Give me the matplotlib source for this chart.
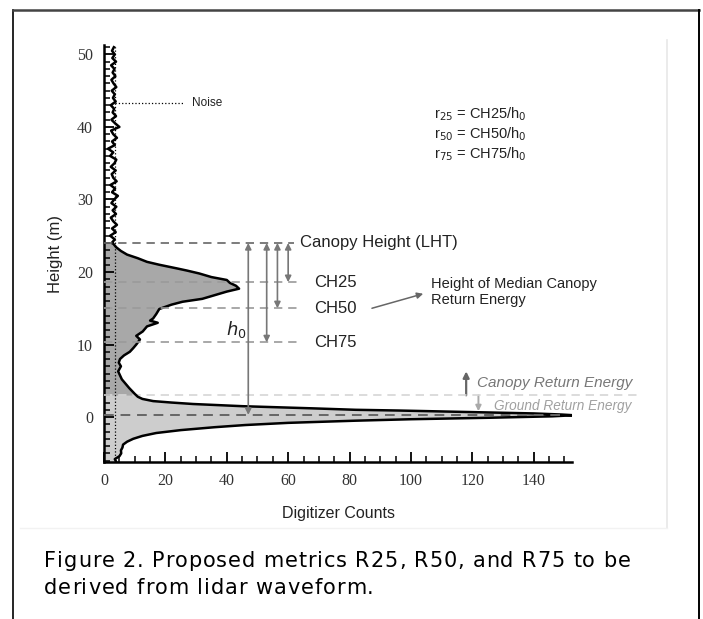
import matplotlib.pyplot as plt
from matplotlib.lines import Line2D
import numpy as np

# waveform: ground return (bottom up)
ground_h = [-6.2, -5.8, -5.4, -5.0, -4.6, -4.2, -3.8, -3.4, -3.0, -2.6, -2.2, -1.8, -1.4, -1.1,
            -0.8, -0.5, -0.3, -0.1, 0.1, 0.25, 0.35, 0.5, 0.7, 0.9, 1.0, 1.2, 1.5, 1.8, 2.0,
            2.2, 2.5, 2.8, 3.0]
ground_counts = [4, 3.5, 5, 5.6, 5.5, 6, 6.2, 7.5, 9.5, 12.5, 17, 25, 36, 46,
                 60, 82, 100, 125, 146, 153, 149, 140, 118, 96, 82, 68, 45, 29, 22,
                 16, 12.5, 11, 10.5]

# canopy return
canopy_h = [3.0, 3.2, 4.0, 5.2, 6.3, 7.0, 7.5, 8.0, 8.5, 9.0, 9.5, 10.0, 10.7, 11.2, 11.8,
            12.5, 13.0, 13.3, 13.6, 14.2, 14.9, 15.5, 15.9, 16.3, 16.8, 17.3, 17.7, 18.1,
            18.5, 18.9, 19.3, 19.8, 20.2, 20.5, 21.0, 21.4, 21.9, 22.4, 22.9, 23.4, 23.9, 24.0]
canopy_counts = [10.5, 10, 8.2, 5.8, 4.6, 5.5, 4.8, 5.2, 6.5, 8.4, 9.5, 10.5, 11.7, 10.5, 12.6,
                 14, 17.5, 15, 16, 17, 18, 22, 25.6, 32, 36, 40, 44, 43,
                 41, 40, 35, 31, 27, 23.7, 18, 14, 11, 7.5, 5.5, 4, 3, 2.5]

# noise above canopy
noise_h = [24.0, 24.5, 25.0, 25.5, 26.0, 26.5, 27.0, 27.5, 28.0, 28.5, 29.0, 29.5, 30.0,
           30.5, 31.0, 31.5, 32.0, 32.5, 33.0, 33.5, 34.0, 34.5, 35.0, 35.5, 36.0, 36.5,
           37.0, 37.5, 38.0, 38.5, 39.0, 39.5, 40.0, 40.5, 41.0, 41.5, 42.0, 42.5, 43.0,
           43.5, 44.0, 44.5, 45.0, 45.5, 46.0, 46.5, 47.0, 47.5, 48.0, 48.5, 49.0, 49.5,
           50.0, 50.5, 51.0]
noise_counts = [2.5, 3.5, 2.0, 3.8, 2.6, 4.2, 3.0, 2.2, 3.9, 2.8, 4.0, 2.4, 3.3,
                4.5, 2.6, 3.6, 2.1, 4.1, 3.0, 2.5, 3.8, 2.2, 3.4, 4.0, 2.0, 3.0,
                1.3, 3.5, 2.6, 4.2, 3.0, 2.3, 5.0, 3.6, 2.4, 3.9, 2.8, 3.3, 2.2,
                3.8, 2.9, 3.5, 2.5, 4.0, 3.1, 2.4, 3.7, 2.8, 3.4, 2.3, 3.9, 2.7,
                3.5, 2.6, 3.2]

# metric heights
lht = 24.0
ch25 = 18.6
ch50 = 15.0
ch75 = 10.3
ground_level = 0.3
split_level = 3.0
noise_level = 3.6

xticks = [0, 20, 40, 60, 80, 100, 120, 140]
yticks = [0, 10, 20, 30, 40, 50]

caption = ['Figure 2. Proposed metrics R25, R50, and R75 to be',
           'derived from lidar waveform.']

sans = 'Liberation Sans'
serif = 'Liberation Serif'

fig = plt.figure(figsize=(7.03, 6.19), dpi=100)
ax = fig.add_axes([0.148, 0.2536, 0.6657, 0.6737])
ax.set_xlim(0, 152.5)
ax.set_ylim(-6.2, 51.3)

# fills
ax.fill_betweenx(ground_h, 0, ground_counts, color='#cdcdcd', lw=0)
ax.fill_betweenx(canopy_h, 0, canopy_counts, color='#a8a8a8', lw=0)

wave_h = ground_h + canopy_h[1:] + noise_h[1:]
wave_c = ground_counts + canopy_counts[1:] + noise_counts[1:]
ax.plot(wave_c, wave_h, color='black', lw=1.8, zorder=5)

# noise level
ax.axvline(noise_level, color='black', ls=':', lw=0.9, zorder=6)
ax.plot([noise_level, 25.6], [43.3, 43.3], color='black', ls=':', lw=0.9)
ax.text(28.5, 43.3, 'Noise', fontsize=8.5, family=sans, va='center', color='#222')

# dashed height lines
dash = (0, (5, 3.5))
ax.plot([0, 62], [lht, lht], color='#666666', ls=dash, lw=1.2, zorder=6)
for h in (ch25, ch50, ch75):
    ax.plot([0, 64], [h, h], color='#9a9a9a', ls=dash, lw=1.2, zorder=6)
ax.plot([0, 150], [ground_level, ground_level], color='#666666', ls=dash, lw=1.4, zorder=6)
ax.plot([0, 175], [split_level, split_level], color='#d6d6d6', ls=dash, lw=1.2,
        zorder=4, clip_on=False)

ax.text(64, lht, 'Canopy Height (LHT)', fontsize=12, family=sans, va='center', color='#222')
for h, lab in ((ch25, 'CH25'), (ch50, 'CH50'), (ch75, 'CH75')):
    ax.text(68.5, h, lab, fontsize=12, family=sans, va='center', color='#222')

# arrows
aprops = dict(arrowstyle='<|-|>', color='#777777', lw=1.2, mutation_scale=9,
              shrinkA=0, shrinkB=0)
for x, h in ((47, ground_level), (53, ch75), (56.5, ch50), (60, ch25)):
    ax.annotate('', xy=(x, h), xytext=(x, lht), arrowprops=aprops, zorder=7)
ax.text(43, 12.1, r'$h_0$', fontsize=13, va='center', ha='center', color='#222',
        math_fontfamily='dejavusans')

ax.annotate('', xy=(104, 17.0), xytext=(87.3, 15.0),
            arrowprops=dict(arrowstyle='-|>', color='#666666', lw=1.1,
                            mutation_scale=9, shrinkA=0, shrinkB=0))
ax.text(106.5, 17.2, 'Height of Median Canopy\nReturn Energy', fontsize=10.5,
        family=sans, va='center', ha='left', color='#222', linespacing=1.2)

# canopy / ground return labels
ax.annotate('', xy=(118, 6.3), xytext=(118, split_level),
            arrowprops=dict(arrowstyle='-|>', color='#666666', lw=1.6,
                            mutation_scale=9, shrinkA=0, shrinkB=0))
ax.text(121.5, 4.7, 'Canopy Return Energy', fontsize=11, family=sans, style='italic',
        va='center', color='#777777', clip_on=False)
ax.annotate('', xy=(122, 0.8), xytext=(122, split_level),
            arrowprops=dict(arrowstyle='-|>', color='#aaaaaa', lw=1.4,
                            mutation_scale=8, shrinkA=0, shrinkB=0))
ax.text(127, 1.5, 'Ground Return Energy', fontsize=9.8, family=sans, style='italic',
        va='center', color='#a0a0a0', clip_on=False)

# ratio definitions
for h, p, ch in ((41.8, '25', 'CH25'), (39.0, '50', 'CH50'), (36.3, '75', 'CH75')):
    ax.text(107.5, h, 'r$_{%s}$ = %s/h$_0$' % (p, ch), fontsize=10.5, family=sans,
            va='center', color='#222')

# axes styling
for s in ('top', 'right'):
    ax.spines[s].set_visible(False)
for s in ('left', 'bottom'):
    ax.spines[s].set_linewidth(1.8)
ax.set_xticks(xticks)
ax.set_yticks(yticks)
ax.set_xticks(np.arange(0, 151, 5), minor=True)
ax.set_yticks(np.arange(-6, 52, 1), minor=True)
ax.tick_params(which='major', direction='in', length=7, width=1.3, labelsize=11.5,
               colors='black', labelcolor='#333', pad=8)
ax.tick_params(which='minor', direction='in', length=4, width=1.1)
for lbl in ax.get_xticklabels() + ax.get_yticklabels():
    lbl.set_family(serif)
ax.set_xlabel('Digitizer Counts', fontsize=11.5, family=sans, labelpad=12, color='#222')
ax.set_ylabel('Height (m)', fontsize=12, family=sans, labelpad=10, color='#222')

W, H = 703, 619

# caption, slightly letter-spaced like the printed page
renderer = fig.canvas.get_renderer()
def spaced_text(x_px, y_px, s, track=0.9, size=15):
    x = x_px
    for ch in s:
        t = fig.text(x / W, 1 - y_px / H, ch, fontsize=size, family='DejaVu Sans',
                     va='baseline', ha='left', color='black')
        if ch == ' ':
            w = size * 100 / 72 * 0.318
        else:
            w = t.get_window_extent(renderer).width
        x += w + track

spaced_text(44, 567, caption[0])
spaced_text(44, 594, caption[1])

# page frame and faint image border
def fline(xs, ys, **kw):
    fig.add_artist(Line2D([x / W for x in xs], [1 - y / H for y in ys], **kw))
fline([12.5, 12.5], [10, 619], color='black', lw=1.2)
fline([12.5, 699], [10, 10], color='#444', lw=1.8)
fline([699, 699], [10, 619], color='black', lw=1.4)
fline([667, 667], [40, 528], color='#e8e8e8', lw=1.2)
fline([20, 667], [528, 528], color='#f2f2f2', lw=1.0)

fig.savefig('out.png', dpi=100)
